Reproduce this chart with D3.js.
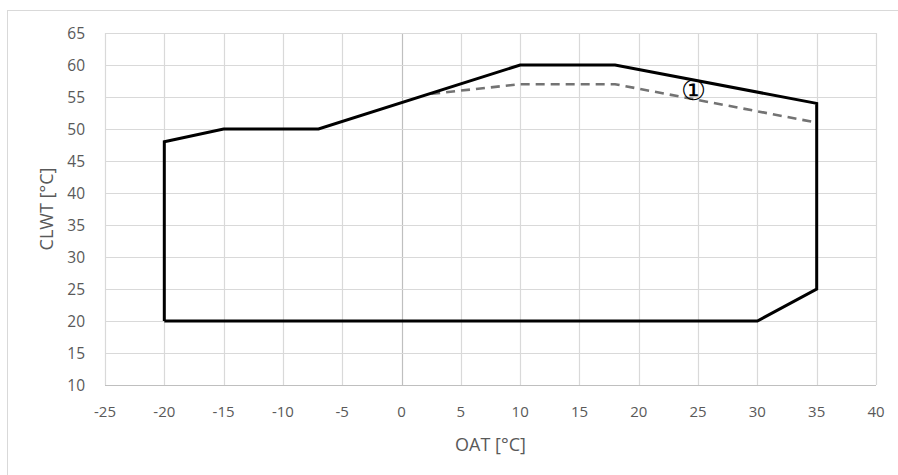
<!DOCTYPE html>
<html><head><meta charset="utf-8">
<script src="https://cdn.jsdelivr.net/npm/d3@7"></script>
<style>body{margin:0;background:#fff;} text{font-family:"Open Sans","Noto Sans",sans-serif;}</style>
</head><body>
<svg id="c" width="898" height="475"></svg>
<script>
const xTicks = [-25,-20,-15,-10,-5,0,5,10,15,20,25,30,35,40];
const yTicks = [10,15,20,25,30,35,40,45,50,55,60,65];
const envelopeOAT  = [-20,-20,-15,-7,10,18,35,35,30,-20];
const envelopeCLWT = [20,48,50,50,60,60,54,25,20,20];
const limitOAT  = [2.5,10,18,35];
const limitCLWT = [55.5,57,57,51];
const noteLabel = "①";
const noteOAT = 24.6, noteCLWT = 56.3;
const xTitle = "OAT [°C]", yTitle = "CLWT [°C]";

const svg = d3.select("#c");
const L=105, R=876, T=33, B=385;
const x = d3.scaleLinear().domain([-25,40]).range([L,R]);
const y = d3.scaleLinear().domain([10,65]).range([B,T]);

svg.append("rect").attr("x",7.5).attr("y",10.5).attr("width",1000).attr("height",1000)
  .attr("fill","none").attr("stroke","#d9d9d9");

const g = svg.append("g");
g.selectAll(".vg").data(xTicks).join("line")
  .attr("x1",d=>Math.round(x(d))+0.5).attr("x2",d=>Math.round(x(d))+0.5)
  .attr("y1",T).attr("y2",B).attr("stroke",d=>d===0?"#bfbfbf":"#d9d9d9").attr("stroke-width",1.2);
g.selectAll(".hg").data(yTicks).join("line")
  .attr("y1",d=>Math.round(y(d))+0.5).attr("y2",d=>Math.round(y(d))+0.5)
  .attr("x1",L).attr("x2",R).attr("stroke",d=>d===10?"#bfbfbf":"#d9d9d9").attr("stroke-width",1.2);

g.selectAll(".xl").data(xTicks).join("text")
  .attr("x",d=>x(d)).attr("y",B+32).attr("text-anchor","middle")
  .attr("font-size",15).attr("fill","#595959").text(d=>d);
g.selectAll(".yl").data(yTicks).join("text")
  .attr("x",L-20).attr("y",d=>y(d)+5.5).attr("text-anchor","end")
  .attr("font-size",15.5).attr("fill","#595959").text(d=>d);

svg.append("text").attr("x",(L+R)/2).attr("y",451).attr("text-anchor","middle")
  .attr("font-size",18).attr("fill","#595959").text(xTitle);
svg.append("text").attr("transform",`translate(53,${(T+B)/2}) rotate(-90)`).attr("text-anchor","middle")
  .attr("font-size",18).attr("fill","#595959").text(yTitle);

const line = d3.line().x(d=>x(d[0])).y(d=>y(d[1]));
svg.append("path").datum(limitOAT.map((v,i)=>[v,limitCLWT[i]]))
  .attr("d",line).attr("fill","none").attr("stroke","#737373").attr("stroke-width",2.6)
  .attr("stroke-dasharray","9,6");
svg.append("path").datum(envelopeOAT.map((v,i)=>[v,envelopeCLWT[i]]))
  .attr("d",line).attr("fill","none").attr("stroke","#000").attr("stroke-width",3)
  .attr("stroke-linejoin","miter");
svg.append("text").attr("x",x(noteOAT)).attr("y",y(noteCLWT)).attr("text-anchor","middle")
  .attr("dominant-baseline","central")
  .attr("font-size",28).attr("fill","#000").attr("font-family","DejaVu Sans").text(noteLabel);
</script>
</body></html>
